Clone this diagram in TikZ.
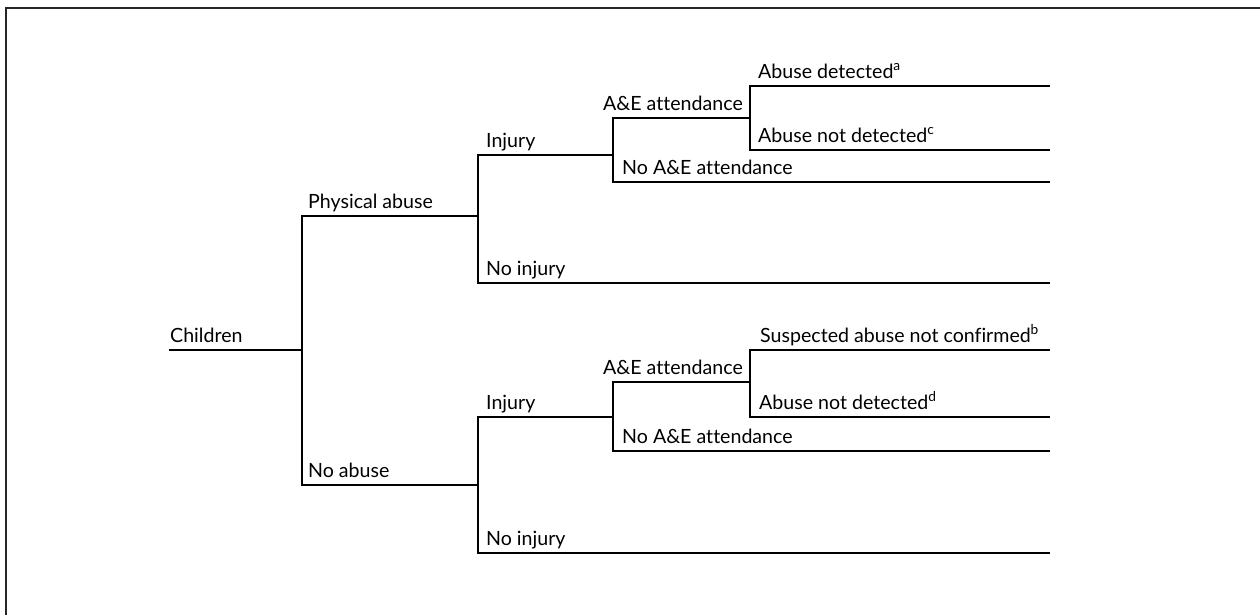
\documentclass[tikz,border=0pt]{standalone}
\usepackage{fontspec}
\setmainfont{Lato}[Ligatures=NoCommon]
\begin{document}
\begin{tikzpicture}[x=1pt,y=-1pt,
  br/.style={line width=1.8pt, line join=miter},
  frame/.style={line width=1.5pt, draw=black!85},
  lab/.style={anchor=base west, inner sep=0pt, font=\fontsize{19.6}{22}\selectfont},
  labr/.style={anchor=base east, inner sep=0pt, font=\fontsize{19.6}{22}\selectfont}]
\useasboundingbox (0,0) rectangle (1260,614);
\draw[frame] (6,620) -- (6,8) -- (1266,8);
% coordinates
\coordinate (c0) at (169,350); \coordinate (c1) at (302,350);
\coordinate (pa0) at (302,216); \coordinate (pa1) at (478,216);
\coordinate (na0) at (302,485); \coordinate (na1) at (478,485);
\coordinate (i10) at (478,155); \coordinate (i11) at (613,155);
\coordinate (n10) at (478,283); \coordinate (n11) at (1050,283);
\coordinate (a10) at (613,118); \coordinate (a11) at (750,118);
\coordinate (b10) at (613,182); \coordinate (b11) at (1050,182);
\coordinate (d10) at (750,86);  \coordinate (d11) at (1050,86);
\coordinate (e10) at (750,150); \coordinate (e11) at (1050,150);
\coordinate (i20) at (478,417); \coordinate (i21) at (613,417);
\coordinate (n20) at (478,553); \coordinate (n21) at (1050,553);
\coordinate (a20) at (613,382); \coordinate (a21) at (750,382);
\coordinate (b20) at (613,451); \coordinate (b21) at (1050,451);
\coordinate (d20) at (750,350); \coordinate (d21) at (1050,350);
\coordinate (e20) at (750,417); \coordinate (e21) at (1050,417);
% branches
\draw[br] (c0) -- (c1);
\draw[br] (pa1) -- (pa0) -- (na0) -- (na1);
\draw[br] (i11) -- (i10) -- (n10) -- (n11);
\draw[br] (a11) -- (a10) -- (b10) -- (b11);
\draw[br] (d11) -- (d10) -- (e10) -- (e11);
\draw[br] (i21) -- (i20) -- (n20) -- (n21);
\draw[br] (a21) -- (a20) -- (b20) -- (b21);
\draw[br] (d21) -- (d20) -- (e20) -- (e21);
% labels
\node[lab] (tC) at (170,342) {Children};
\node[lab] (tPA) at (308,208) {Physical abuse};
\node[lab] (tNA) at (308,477) {No abuse};
\node[lab] (tI1) at (486,147) {Injury};
\node[lab] (tN1) at (486,275) {No injury};
\node[labr] (tA1) at (743,110) {A\&E attendance};
\node[lab] (tB1) at (622,174) {No A\&E attendance};
\node[lab] (tD1) at (758,78) {Abuse detected\textsuperscript{a}};
\node[lab] (tE1) at (758,142) {Abuse not detected\textsuperscript{c}};
\node[lab] (tI2) at (486,409) {Injury};
\node[lab] (tN2) at (486,545) {No injury};
\node[labr] (tA2) at (743,374) {A\&E attendance};
\node[lab] (tB2) at (622,443) {No A\&E attendance};
\node[lab] (tD2) at (760,342) {Suspected abuse not confirmed\textsuperscript{b}};
\node[lab] (tE2) at (759,409) {Abuse not detected\textsuperscript{d}};
\end{tikzpicture}
\end{document}
